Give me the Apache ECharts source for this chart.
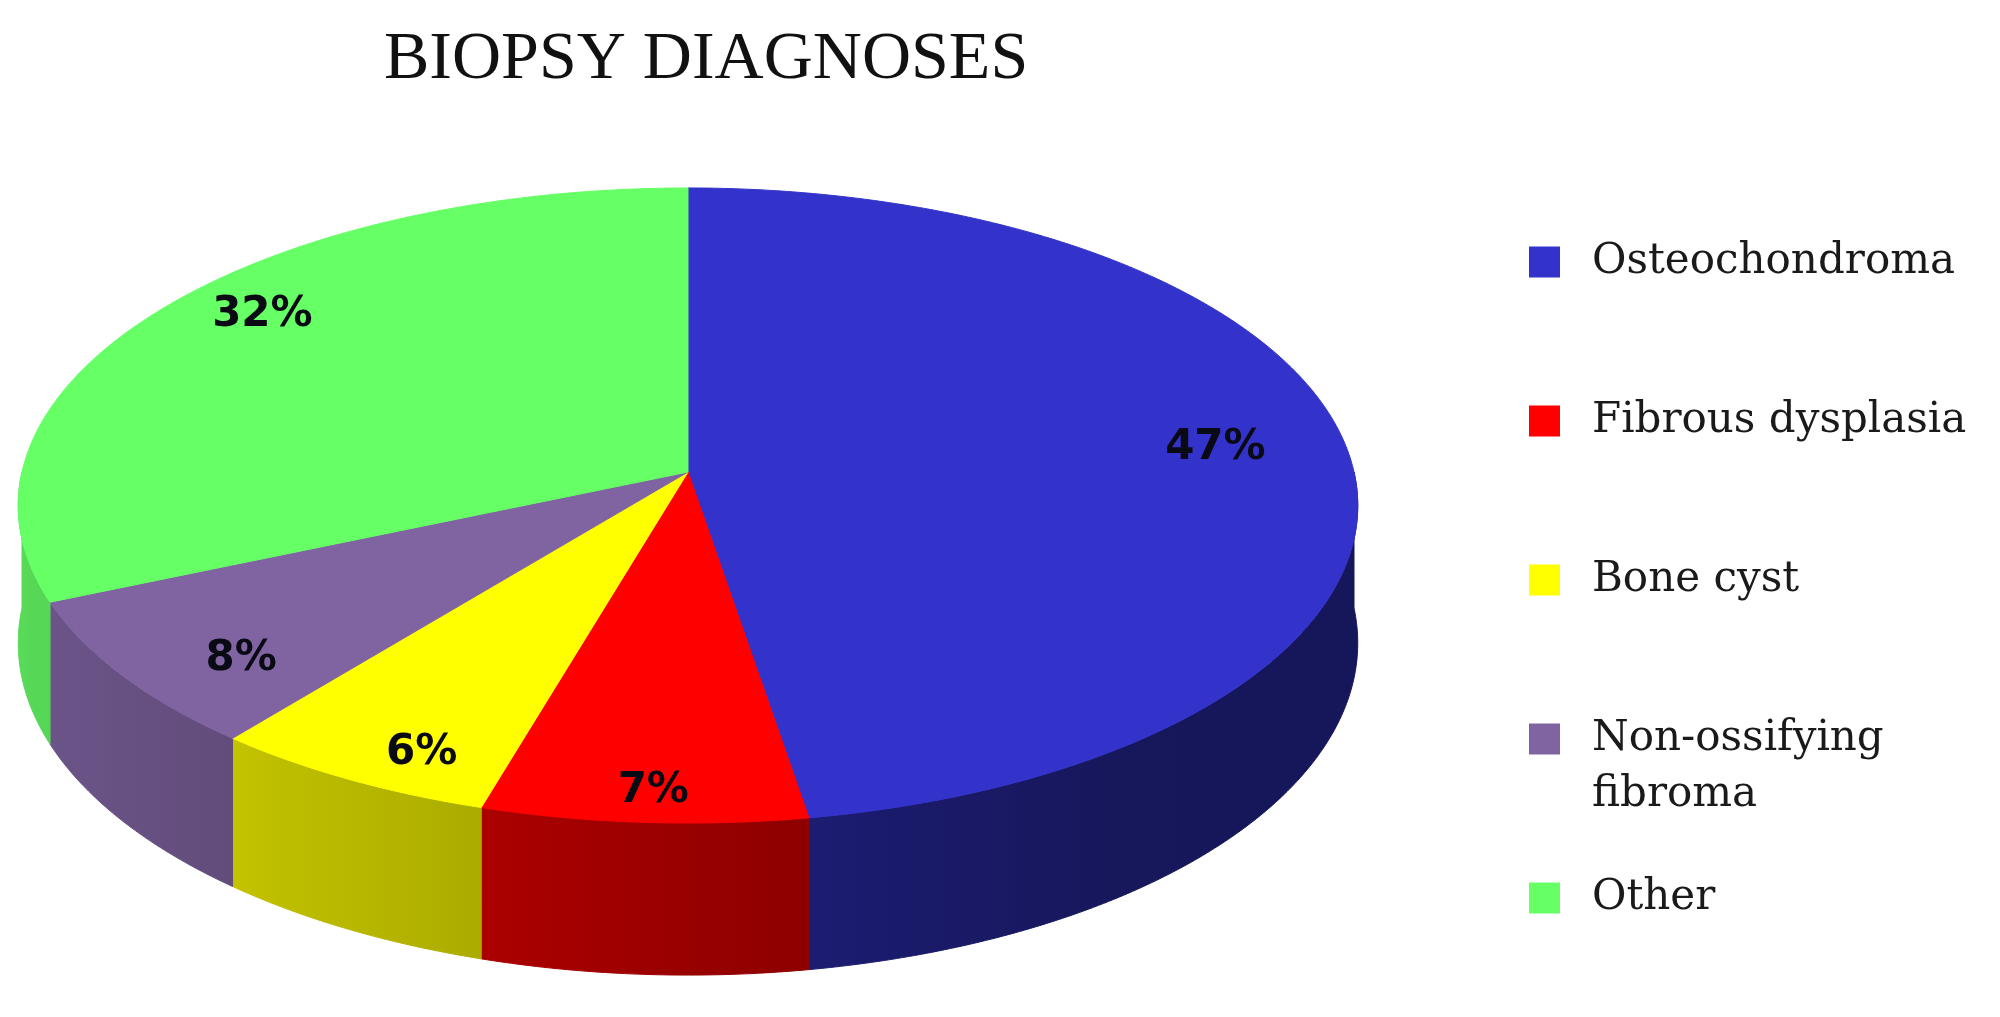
<!DOCTYPE html>
<html>
<head>
<meta charset="utf-8">
<title>Biopsy diagnoses</title>
<script src="https://cdn.jsdelivr.net/npm/echarts@6/dist/echarts.min.js"></script>
<style>
    html, body { margin: 0; padding: 0; background: #fff; }
    #chart { width: 2000px; height: 1017px; }
</style>
</head>
<body>
<div id="chart"></div>
<script>
const categories = ['Osteochondroma', 'Fibrous dysplasia', 'Bone cyst', 'Non-ossifying fibroma', 'Other']
const shares = [47.4, 7.1, 6.3, 7.7, 31.5]   // percent
const colors = ['#3333cc', '#ff0000', '#ffff00', '#8064a2', '#66ff66']

// 3d pie geometry, px
const CX = 688, CY = 472        // apex of the slices
const RX = 666, RY = 314        // radii of the top ellipse
const PERSP = -0.1055           // near side is drawn larger
const DEPTH = 136               // thickness of the disc

const total = shares.reduce((a, b) => a + b, 0)
const cum = [0]
shares.forEach((v, i) => cum.push(cum[i] + v))

// theta: 0 = 12 o'clock, clockwise
function project(theta, r, down) {
    const u = Math.sin(theta) * r
    const v = -Math.cos(theta) * r
    const d = 1 + PERSP * v
    return [CX + RX * u / d, CY + RY * v / d + (down ? DEPTH / d : 0)]
}

function shade(hex, k) {
    const n = parseInt(hex.slice(1), 16)
    const r = Math.round(((n >> 16) & 255) * k)
    const g = Math.round(((n >> 8) & 255) * k)
    const b = Math.round((n & 255) * k)
    return 'rgb(' + r + ',' + g + ',' + b + ')'
}

// side walls: lit from the left
function sideFactor(theta) {
    return Math.min(1, Math.max(0.44, 0.6 - 0.26 * Math.sin(theta)))
}

function renderItem(params, api) {
    const i = params.dataIndex
    const a0 = cum[i] / total * 2 * Math.PI
    const a1 = cum[i + 1] / total * 2 * Math.PI
    const step = Math.PI / 360
    const children = []

    // top face
    const n = Math.max(2, Math.ceil((a1 - a0) / step))
    const top = [[CX, CY]]
    for (let k = 0; k <= n; k++) top.push(project(a0 + (a1 - a0) * k / n, 1, false))
    children.push({
        type: 'polygon',
        shape: { points: top },
        style: { fill: colors[i], stroke: colors[i], lineWidth: 1, lineJoin: 'round' },
        z2: 10
    })

    // visible front wall
    const w0 = Math.max(a0, Math.PI / 2)
    const w1 = Math.min(a1, Math.PI * 1.5)
    if (w1 > w0) {
        const m = Math.max(2, Math.ceil((w1 - w0) / step))
        const upper = [], lower = []
        for (let k = 0; k <= m; k++) {
            const t = w0 + (w1 - w0) * k / m
            upper.push(project(t, 1, false))
            lower.push(project(t, 1, true))
        }
        const xs = upper.concat(lower).map(p => p[0])
        const minX = Math.min.apply(null, xs), maxX = Math.max.apply(null, xs)
        const stops = []
        for (let k = 0; k <= 6; k++) {
            const t = w0 + (w1 - w0) * k / 6
            const off = (project(t, 1, false)[0] - minX) / Math.max(1, maxX - minX)
            stops.push({ offset: Math.min(1, Math.max(0, off)), color: shade(colors[i], sideFactor(t)) })
        }
        stops.sort((a, b) => a.offset - b.offset)
        const grad = { type: 'linear', x: 0, y: 0, x2: 1, y2: 0, colorStops: stops }
        children.push({
            type: 'polygon',
            shape: { points: upper.concat(lower.reverse()) },
            style: { fill: grad, stroke: grad, lineWidth: 1 },
            z2: 1
        })
    }

    // percentage label
    const mid = (a0 + a1) / 2
    const p = project(mid, 0.8, false)
    children.push({
        type: 'text',
        x: p[0],
        y: p[1] + 45 * -Math.cos(mid),
        style: {
            text: Math.round(api.value(0)) + '%',
            fontFamily: 'DejaVu Sans',
            fontWeight: 'bold',
            fontSize: 42,
            fill: '#0a0a14',
            align: 'center',
            verticalAlign: 'middle'
        },
        z2: 20
    })
    return { type: 'group', children: children }
}

const legendRows = [262, 421, 580, 739, 898]

const chart = echarts.init(document.getElementById('chart'))
chart.setOption({
    animation: false,
    backgroundColor: '#ffffff',
    title: {
        text: 'BIOPSY DIAGNOSES',
        left: 384,
        top: 26,
        padding: 0,
        textStyle: {
            fontFamily: 'Liberation Serif',
            fontSize: 68,
            fontWeight: 'normal',
            color: '#111111'
        }
    },
    // one legend per row so the two-line entry keeps the reference spacing
    legend: categories.map((name, i) => {
        const wrap = name === 'Non-ossifying fibroma'
        return {
            data: [name],
            left: 1529,
            top: legendRows[i] - (wrap ? 84 : 28),
            padding: 0,
            icon: 'rect',
            itemWidth: 31,
            itemHeight: 31,
            selectedMode: false,
            // empty first line keeps the icon level with "Non-ossifying"
            formatter: wrap ? ' \n{t|Non-ossifying}\n{t|fibroma}' : '{t|' + name + '}',
            textStyle: {
                fontFamily: 'DejaVu Serif',
                fontSize: 42,
                lineHeight: 56,
                color: '#1a1a1a',
                rich: {
                    t: {
                        fontFamily: 'DejaVu Serif',
                        fontSize: 42,
                        lineHeight: 56,
                        color: '#1a1a1a',
                        padding: [0, 0, 0, 27]
                    }
                }
            }
        }
    }),
    series: [
        {
            type: 'custom',
            name: 'Biopsy diagnoses',
            coordinateSystem: 'none',
            renderItem: renderItem,
            data: shares.map((v, i) => ({ name: categories[i], value: v }))
        },
        {
            // invisible pie, only feeds the legend its names and colours
            type: 'pie',
            radius: [0, 0],
            center: [-100, -100],
            silent: true,
            label: { show: false },
            labelLine: { show: false },
            data: shares.map((v, i) => ({ name: categories[i], value: v, itemStyle: { color: colors[i] } }))
        }
    ]
})

window.addEventListener('resize', () => {
    chart.resize()
})
</script>
</body>
</html>
